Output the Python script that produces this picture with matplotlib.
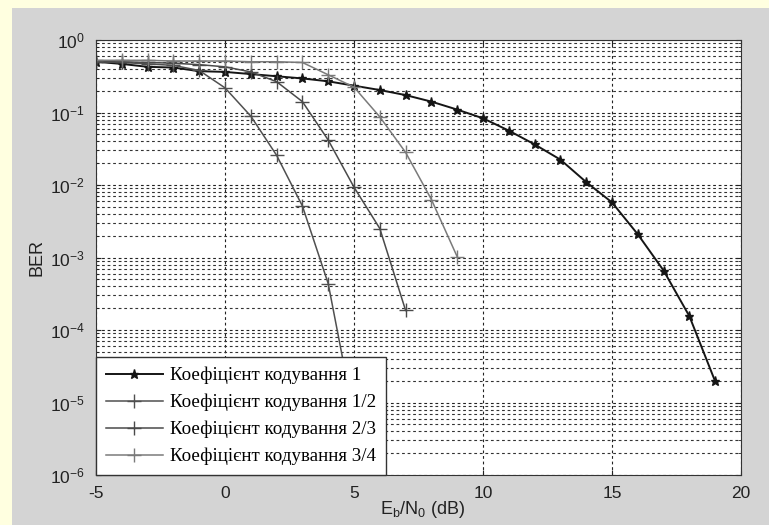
import numpy as np
import matplotlib
matplotlib.use("Agg")
import matplotlib.pyplot as plt
from matplotlib.ticker import LogLocator, NullFormatter
from matplotlib.patches import Rectangle

# Eb/N0 (dB) and BER values as log10(BER)
ebn0_r1 = list(range(-5, 20))
log_ber_r1 = [-0.30, -0.33, -0.37, -0.38, -0.43, -0.44, -0.47, -0.50, -0.53,
              -0.57, -0.63, -0.69, -0.76, -0.85, -0.96, -1.08, -1.25, -1.44,
              -1.65, -1.96, -2.24, -2.68, -3.18, -3.81, -4.71]

ebn0_r12 = list(range(-5, 6))
log_ber_r12 = [-0.30, -0.31, -0.33, -0.35, -0.42, -0.66, -1.05, -1.59, -2.29,
               -3.36, -5.20]

ebn0_r23 = list(range(-5, 8))
log_ber_r23 = [-0.30, -0.30, -0.31, -0.32, -0.34, -0.37, -0.44, -0.575, -0.85,
               -1.38, -2.03, -2.60, -3.73]

ebn0_r34 = list(range(-5, 10))
log_ber_r34 = [-0.28, -0.28, -0.28, -0.29, -0.29, -0.29, -0.30, -0.30, -0.31,
               -0.48, -0.65, -1.06, -1.55, -2.20, -2.99]

labels = ["Коефіцієнт кодування 1", "Коефіцієнт кодування 1/2",
          "Коефіцієнт кодування 2/3", "Коефіцієнт кодування 3/4"]

plt.rcParams['font.family'] = ['Liberation Sans', 'DejaVu Sans']
plt.rcParams['axes.unicode_minus'] = False

fig = plt.figure(figsize=(7.69, 5.25), dpi=100, facecolor='#ffffe0')
# grey panel inside the yellow frame
fig.patches.append(Rectangle((12 / 769, 0), 1, 1 - 8 / 525, transform=fig.transFigure,
                             facecolor='#d4d4d4', edgecolor='none', zorder=-10))

ax = fig.add_axes([96 / 769, 1 - 475 / 525, (741 - 96) / 769, (475 - 40) / 525])
ax.set_facecolor('white')

ax.semilogy(ebn0_r1, 10 ** np.array(log_ber_r1), color='#151515', lw=1.4,
            marker='*', ms=6.5, label=labels[0])
ax.semilogy(ebn0_r12, 10 ** np.array(log_ber_r12), color='#505050', lw=1.1,
            marker='+', ms=10, label=labels[1])
ax.semilogy(ebn0_r23, 10 ** np.array(log_ber_r23), color='#4a4a4a', lw=1.1,
            marker='+', ms=10, label=labels[2])
ax.semilogy(ebn0_r34, 10 ** np.array(log_ber_r34), color='#7a7a7a', lw=1.1,
            marker='+', ms=10, label=labels[3])

ax.set_xlim(-5, 20)
ax.set_ylim(1e-6, 1)
ax.set_xticks([-5, 0, 5, 10, 15, 20])
ax.yaxis.set_major_locator(LogLocator(base=10, numticks=10))
ax.yaxis.set_minor_locator(LogLocator(base=10, subs=np.arange(2, 10), numticks=20))
ax.yaxis.set_minor_formatter(NullFormatter())
ax.tick_params(which='both', direction='in', top=True, right=True, labelsize=12.5,
               colors='#222222')
ax.tick_params(which='major', pad=8)

ax.xaxis.grid(True, which='major', ls=(0, (2.5, 2.5)), color='#222222', lw=0.8)
ax.yaxis.grid(True, which='major', ls=(0, (2.5, 2.5)), color='#222222', lw=0.8)
ax.yaxis.grid(True, which='minor', ls=(0, (2.5, 2.5)), color='#333333', lw=0.8)
for s in ax.spines.values():
    s.set_color('#333333')

ax.set_ylabel('BER', fontsize=13, color='#222222')
ax.yaxis.set_label_coords(-0.078, 0.5)
ax.set_xlabel('$\\mathregular{E_b/N_0}$ (dB)', fontsize=13, color='#222222')
ax.xaxis.set_label_coords(0.507, -0.055)

leg = ax.legend(loc='lower left', prop={'family': 'Liberation Serif', 'size': 13.7},
                handlelength=3.0, borderaxespad=0, fancybox=False, framealpha=1,
                edgecolor='#333333', labelspacing=0.5, borderpad=0.5,
                handletextpad=0.4)
leg.get_frame().set_linewidth(1.0)

fig.savefig('out.png', dpi=100, facecolor=fig.get_facecolor())
